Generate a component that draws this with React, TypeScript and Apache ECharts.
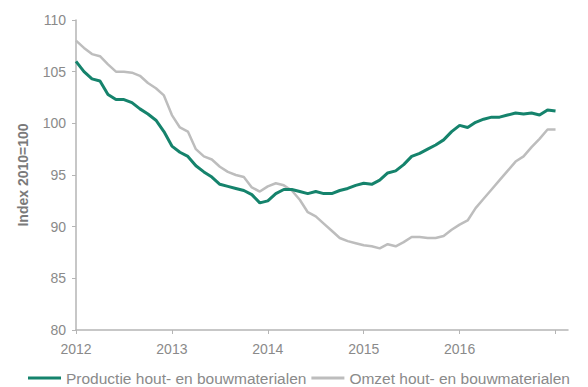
import React, { useEffect, useRef } from "react";
import * as echarts from "echarts";

const startYear = 2012;
const yearTicks = [2012, 2013, 2014, 2015, 2016, 2017];

const productie = [
  106.0, 105.0, 104.3, 104.1, 102.8, 102.3, 102.3, 102.0, 101.4, 100.9, 100.3, 99.2,
  97.8, 97.2, 96.8, 95.9, 95.3, 94.8, 94.1, 93.9, 93.7, 93.5, 93.1, 92.3,
  92.5, 93.2, 93.6, 93.6, 93.4, 93.2, 93.4, 93.2, 93.2, 93.5, 93.7, 94.0,
  94.2, 94.1, 94.5, 95.2, 95.4, 96.0, 96.8, 97.1, 97.5, 97.9, 98.4, 99.2,
  99.8, 99.6, 100.1, 100.4, 100.6, 100.6, 100.8, 101.0, 100.9, 101.0, 100.8, 101.3,
  101.2,
];

const omzet = [
  108.0, 107.3, 106.7, 106.5, 105.7, 105.0, 105.0, 104.9, 104.6, 103.9, 103.4, 102.7,
  100.8, 99.6, 99.2, 97.5, 96.8, 96.5, 95.8, 95.3, 95.0, 94.8, 93.8, 93.4,
  93.9, 94.2, 94.0, 93.5, 92.6, 91.4, 91.0, 90.3, 89.6, 88.9, 88.6, 88.4,
  88.2, 88.1, 87.9, 88.3, 88.1, 88.5, 89.0, 89.0, 88.9, 88.9, 89.1, 89.7,
  90.2, 90.6, 91.8, 92.7, 93.6, 94.5, 95.4, 96.3, 96.8, 97.7, 98.5, 99.4,
  99.4,
];

const seriesNames = ["Productie hout- en bouwmaterialen", "Omzet hout- en bouwmaterialen"];
const greenColor = "#15836c";
const grayColor = "#bdbdbd";

const toPoints = (vals: number[]) => vals.map((v, i) => [startYear + i / 12, v]);

export default function App() {
  const ref = useRef<HTMLDivElement>(null);
  useEffect(() => {
    if (!ref.current) return;
    const chart = echarts.init(ref.current, undefined, { renderer: "svg" });
    const font = "'Liberation Sans', Arial, sans-serif";
    chart.setOption({
      animation: false,
      backgroundColor: "#ffffff",
      textStyle: { fontFamily: font },
      grid: { left: 66, right: 12, top: 12, bottom: 57 },
      legend: {
        top: 362,
        left: 20,
        right: 0,
        padding: 0,
        itemWidth: 33,
        itemHeight: 3,
        itemGap: 5,
        textStyle: { color: "#8a8a8a", fontSize: 15.5, fontFamily: font },
        data: [
          { name: seriesNames[0], icon: "rect", itemStyle: { color: greenColor } },
          { name: seriesNames[1], icon: "rect", itemStyle: { color: grayColor } },
        ],
      },
      xAxis: {
        type: "value",
        min: 2012,
        max: 2017.13,
        interval: 1,
        axisLine: { show: true, lineStyle: { color: "#b5b5b5", width: 1.5 } },
        axisTick: { show: true, length: 4, lineStyle: { color: "#b5b5b5" } },
        splitLine: { show: false },
        axisLabel: {
          color: "#8a8a8a",
          fontSize: 14,
          margin: 12,
          showMaxLabel: false,
          formatter: (v: number) =>
            yearTicks.includes(Math.round(v)) && Math.round(v) < 2017 ? String(Math.round(v)) : "",
        },
      },
      yAxis: {
        type: "value",
        min: 80,
        max: 110,
        interval: 5,
        name: "Index 2010=100",
        nameLocation: "middle",
        nameGap: 46,
        nameRotate: 90,
        nameTextStyle: { color: "#7a7a7a", fontSize: 14, fontWeight: "bold", fontFamily: font },
        axisLine: { show: true, lineStyle: { color: "#b5b5b5", width: 1.5 } },
        axisTick: { show: true, length: 4, lineStyle: { color: "#b5b5b5" } },
        splitLine: { show: false },
        axisLabel: { color: "#8a8a8a", fontSize: 14, margin: 10 },
      },
      series: [
        {
          name: seriesNames[0],
          type: "line",
          data: toPoints(productie),
          symbol: "none",
          lineStyle: { color: greenColor, width: 3 },
          itemStyle: { color: greenColor },
          z: 3,
        },
        {
          name: seriesNames[1],
          type: "line",
          data: toPoints(omzet),
          symbol: "none",
          lineStyle: { color: grayColor, width: 2.5 },
          itemStyle: { color: grayColor },
          z: 2,
        },
      ],
    });
    return () => chart.dispose();
  }, []);
  return <div ref={ref} style={{ width: 572, height: 379 }} />;
}
